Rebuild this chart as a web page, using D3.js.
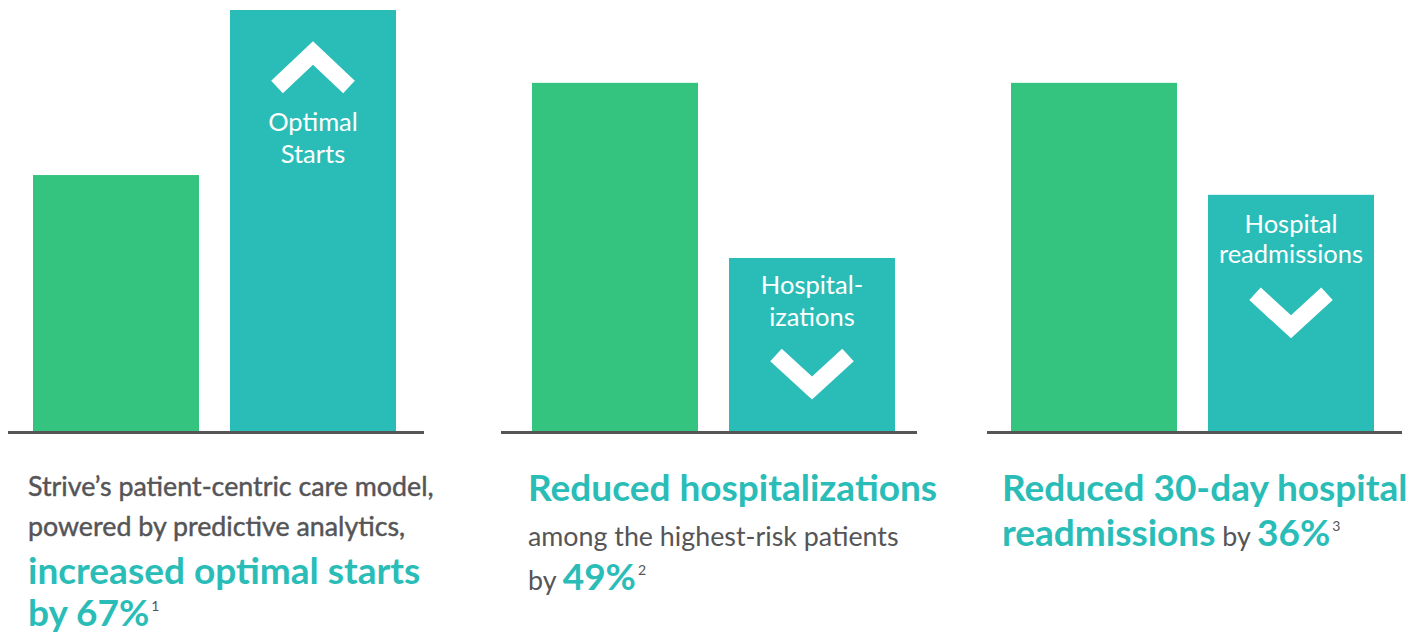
<!DOCTYPE html>
<html><head><meta charset="utf-8">
<script src="https://cdn.jsdelivr.net/npm/d3@7"></script>
<style>
html,body{margin:0;padding:0;background:#fff;}
svg{display:block;font-family:Lato,"Open Sans",sans-serif;}
</style></head>
<body>
<svg id="chart" width="1415" height="635"></svg>
<script>
// ---- data ----
const panels = ["Optimal starts", "Hospitalizations", "Readmissions"];
const groups = ["before", "after"];
const beforeValues = [60.8, 82.7, 82.7];
const afterValues = [100, 41.1, 56.1];
const barLabels = [["Optimal", "Starts"], ["Hospital-", "izations"], ["Hospital", "readmissions"]];
const directions = ["up", "down", "down"];

const GREEN = "#34c47f", TEAL = "#2abdb8", GRAY = "#555557", AXIS = "#555555";

const svg = d3.select("#chart");
const baseY = 432.5;
const y = d3.scaleLinear().domain([0, 100]).range([baseY - 1.5, 10]);
// panel origins (left edge of the first bar) and baseline extents
const x0 = d3.scaleOrdinal().domain(panels).range([33, 532, 1011]);
const axisStart = d3.scaleOrdinal().domain(panels).range([-25, -31, -24]);
const axisEnd = d3.scaleOrdinal().domain(panels).range([391, 385, 391]);
const x1 = d3.scaleBand().domain(groups).range([0, 363]).paddingInner(31 / 197).paddingOuter(0);

panels.forEach((p, i) => {
  const g = svg.append("g").attr("transform", `translate(${x0(p)},0)`);
  const vals = [beforeValues[i], afterValues[i]];
  g.selectAll("rect").data(groups).join("rect")
    .attr("x", d => x1(d)).attr("width", x1.bandwidth())
    .attr("y", (d, k) => y(vals[k])).attr("height", (d, k) => y(0) - y(vals[k]))
    .attr("fill", (d, k) => k === 0 ? GREEN : TEAL);
  g.append("line").attr("x1", axisStart(p)).attr("x2", axisEnd(p)).attr("y1", baseY).attr("y2", baseY)
    .attr("stroke", AXIS).attr("stroke-width", 3);
  const cx = x1("after") + x1.bandwidth() / 2;
  const top = y(vals[1]);
  const lbl = barLabels[i];
  let textY;
  if (directions[i] === "up") {
    const apex = top + 43, ends = top + 77;
    g.append("path").attr("d", `M${cx - 36},${ends}L${cx},${apex}L${cx + 36},${ends}`)
      .attr("fill", "none").attr("stroke", "#fff").attr("stroke-width", 17).attr("stroke-linejoin", "miter");
    textY = top + 121;
  } else {
    textY = top + 36 + (i === 2 ? 2 : 0);
    const ends = textY + 61, apex = ends + 33;
    g.append("path").attr("d", `M${cx - 36},${ends}L${cx},${apex}L${cx + 36},${ends}`)
      .attr("fill", "none").attr("stroke", "#fff").attr("stroke-width", 17).attr("stroke-linejoin", "miter");
  }
  lbl.forEach((t, k) => {
    g.append("text").attr("x", cx).attr("y", textY + k * (i === 2 ? 30 : 32))
      .attr("text-anchor", "middle").attr("fill", "#fff")
      .attr("font-size", 25.5).text(t);
  });
});

// ---- captions ----
function line(x, yy, parts) {
  const t = svg.append("text").attr("x", x).attr("y", yy);
  parts.forEach(p => {
    const s = t.append("tspan").text(p.t).attr("fill", p.c).attr("font-size", p.s).attr("font-weight", p.w || 400);
    if (p.dy) s.attr("dy", p.dy);
    if (p.dx) s.attr("dx", p.dx);
    if (p.st) s.attr("stroke", p.c).attr("stroke-width", p.st);
  });
  return t;
}
const p1 = 28, p2 = 528, p3 = 1002;
line(p1, 496, [{t: "Strive\u2019s patient-centric care model,", c: GRAY, s: 26.8, st: 0.45}]);
line(p1, 536, [{t: "powered by predictive analytics,", c: GRAY, s: 26.8, st: 0.45}]);
line(p1, 584, [{t: "increased optimal starts", c: TEAL, s: 37, w: 700}]);
line(p1, 626, [{t: "by 67%", c: TEAL, s: 37, w: 700}, {t: "1", c: GRAY, s: 14, dy: -15, dx: 2}]);

line(p2, 501, [{t: "Reduced hospitalizations", c: TEAL, s: 37, w: 700}]);
line(p2, 546, [{t: "among the highest-risk patients", c: GRAY, s: 26.8}]);
line(p2, 590, [{t: "by ", c: GRAY, s: 26.8}, {t: "49%", c: TEAL, s: 37, w: 700}, {t: "2", c: GRAY, s: 14, dy: -15, dx: 2}]);

line(p3, 501, [{t: "Reduced 30-day hospital", c: TEAL, s: 37, w: 700}]);
line(p3, 546, [{t: "readmissions", c: TEAL, s: 37, w: 700}, {t: " by ", c: GRAY, s: 26.8}, {t: "36%", c: TEAL, s: 37, w: 700}, {t: "3", c: GRAY, s: 14, dy: -15, dx: 2}]);
</script>
</body></html>
